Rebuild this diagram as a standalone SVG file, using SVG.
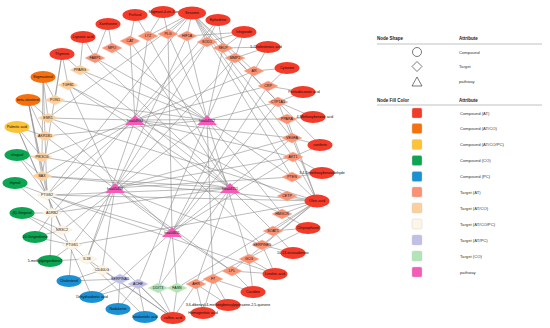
<svg xmlns="http://www.w3.org/2000/svg" xmlns:xlink="http://www.w3.org/1999/xlink" width="550" height="328" viewBox="0 0 550 328">
<style>
text{font-family:"Liberation Sans",Arial,sans-serif;fill:#111;}
.lbl{font-size:3.6px;text-anchor:middle;}
.lg{font-size:4.2px;fill:#333;}
.lh{font-size:4.5px;font-weight:bold;fill:#222;}
#edges line{stroke:#858585;stroke-width:0.55;}
.cAT{fill:#f43a28;}
.cATCO{fill:#f5700f;}
.cATCOPC{fill:#fcc238;}
.cCO{fill:#0ca551;}
.cPC{fill:#1b90d2;}
.tAT{fill:#fa9172;stroke:#fbb49e;stroke-width:0.4;}
.tATCO{fill:#fdcf9c;stroke:#fde0c0;stroke-width:0.4;}
.tATCOPC{fill:#fdf5e6;stroke:#ece2cf;stroke-width:0.4;}
.tATPC{fill:#c0bfe6;stroke:#d4d3ee;stroke-width:0.4;}
.tCO{fill:#b2e5b5;stroke:#cdeecf;stroke-width:0.4;}
.pw{fill:#f45cb8;}
.sq{stroke:#ccc;stroke-width:0.4;}
.ol{fill:none;stroke:#222;stroke-width:0.6;}
.rule{stroke:#999;stroke-width:0.6;}
</style>
<defs>
<polygon id="dia" points="0,-5 10,0 0,5 -10,0"/>
<polygon id="tri" points="-10,5 10,5 0,-5"/>
<ellipse id="ell" rx="12.5" ry="6"/>
</defs>
<rect width="550" height="328" fill="#fff"/>
<g id="edges">
<line x1="135" y1="120" x2="130" y2="41"/><line x1="135" y1="120" x2="148" y2="36"/><line x1="135" y1="120" x2="207" y2="42"/><line x1="135" y1="120" x2="254" y2="71"/><line x1="135" y1="120" x2="268" y2="86"/><line x1="135" y1="120" x2="287" y2="119"/><line x1="135" y1="120" x2="292" y2="138"/><line x1="135" y1="120" x2="293" y2="157"/><line x1="135" y1="120" x2="47" y2="195"/><line x1="135" y1="120" x2="42" y2="176"/><line x1="135" y1="120" x2="42" y2="157"/><line x1="135" y1="120" x2="48" y2="118"/><line x1="135" y1="120" x2="68" y2="85"/><line x1="135" y1="120" x2="87" y2="259"/><line x1="135" y1="120" x2="287" y2="196"/><line x1="135" y1="120" x2="262" y2="245"/>
<line x1="207" y1="120" x2="112" y2="48"/><line x1="207" y1="120" x2="95" y2="58"/><line x1="207" y1="120" x2="168" y2="34"/><line x1="207" y1="120" x2="187" y2="36"/><line x1="207" y1="120" x2="223" y2="48"/><line x1="207" y1="120" x2="235" y2="58"/><line x1="207" y1="120" x2="278" y2="102"/><line x1="207" y1="120" x2="292" y2="177"/><line x1="207" y1="120" x2="282" y2="214"/><line x1="207" y1="120" x2="80" y2="70"/><line x1="207" y1="120" x2="55" y2="100"/><line x1="207" y1="120" x2="45" y2="136"/><line x1="207" y1="120" x2="62" y2="230"/><line x1="207" y1="120" x2="138" y2="284"/><line x1="207" y1="120" x2="249" y2="259"/><line x1="207" y1="120" x2="213" y2="279"/>
<line x1="115" y1="188" x2="187" y2="36"/><line x1="115" y1="188" x2="207" y2="42"/><line x1="115" y1="188" x2="293" y2="157"/><line x1="115" y1="188" x2="292" y2="138"/><line x1="115" y1="188" x2="292" y2="177"/><line x1="115" y1="188" x2="72" y2="245"/><line x1="115" y1="188" x2="52" y2="213"/><line x1="115" y1="188" x2="87" y2="259"/><line x1="115" y1="188" x2="102" y2="270"/><line x1="115" y1="188" x2="68" y2="85"/><line x1="115" y1="188" x2="262" y2="245"/><line x1="115" y1="188" x2="232" y2="271"/><line x1="115" y1="188" x2="235" y2="58"/>
<line x1="230" y1="188" x2="80" y2="70"/><line x1="230" y1="188" x2="68" y2="85"/><line x1="230" y1="188" x2="42" y2="157"/><line x1="230" y1="188" x2="42" y2="176"/><line x1="230" y1="188" x2="47" y2="195"/><line x1="230" y1="188" x2="52" y2="213"/><line x1="230" y1="188" x2="130" y2="41"/><line x1="230" y1="188" x2="148" y2="36"/><line x1="230" y1="188" x2="95" y2="58"/><line x1="230" y1="188" x2="282" y2="214"/><line x1="230" y1="188" x2="273" y2="231"/><line x1="230" y1="188" x2="196" y2="284"/><line x1="230" y1="188" x2="158" y2="288"/>
<line x1="172" y1="232" x2="48" y2="118"/><line x1="172" y1="232" x2="45" y2="136"/><line x1="172" y1="232" x2="47" y2="195"/><line x1="172" y1="232" x2="254" y2="71"/><line x1="172" y1="232" x2="268" y2="86"/><line x1="172" y1="232" x2="278" y2="102"/><line x1="172" y1="232" x2="292" y2="138"/><line x1="172" y1="232" x2="293" y2="157"/><line x1="172" y1="232" x2="177" y2="288"/><line x1="172" y1="232" x2="158" y2="288"/><line x1="172" y1="232" x2="120" y2="279"/><line x1="172" y1="232" x2="168" y2="34"/><line x1="172" y1="232" x2="232" y2="271"/>
<line x1="192" y1="13" x2="148" y2="36"/><line x1="192" y1="13" x2="168" y2="34"/><line x1="192" y1="13" x2="187" y2="36"/><line x1="192" y1="13" x2="207" y2="42"/><line x1="192" y1="13" x2="293" y2="157"/><line x1="192" y1="13" x2="292" y2="138"/><line x1="192" y1="13" x2="47" y2="195"/><line x1="192" y1="13" x2="278" y2="102"/><line x1="192" y1="13" x2="292" y2="177"/><line x1="192" y1="13" x2="254" y2="71"/><line x1="192" y1="13" x2="48" y2="118"/>
<line x1="135" y1="15" x2="130" y2="41"/><line x1="135" y1="15" x2="148" y2="36"/>
<line x1="163" y1="12" x2="148" y2="36"/><line x1="163" y1="12" x2="168" y2="34"/>
<line x1="108" y1="24" x2="95" y2="58"/><line x1="108" y1="24" x2="112" y2="48"/>
<line x1="83" y1="37" x2="80" y2="70"/><line x1="83" y1="37" x2="95" y2="58"/>
<line x1="62" y1="54" x2="80" y2="70"/><line x1="62" y1="54" x2="55" y2="100"/><line x1="62" y1="54" x2="68" y2="85"/><line x1="62" y1="54" x2="42" y2="176"/>
<line x1="43" y1="77" x2="55" y2="100"/><line x1="43" y1="77" x2="48" y2="118"/><line x1="43" y1="77" x2="42" y2="157"/><line x1="43" y1="77" x2="47" y2="195"/>
<line x1="28" y1="100" x2="48" y2="118"/><line x1="28" y1="100" x2="45" y2="136"/><line x1="28" y1="100" x2="47" y2="195"/><line x1="28" y1="100" x2="42" y2="176"/><line x1="28" y1="100" x2="52" y2="213"/>
<line x1="17" y1="127" x2="45" y2="136"/><line x1="17" y1="127" x2="42" y2="157"/><line x1="17" y1="127" x2="47" y2="195"/><line x1="17" y1="127" x2="62" y2="230"/>
<line x1="17" y1="155" x2="42" y2="157"/><line x1="17" y1="155" x2="42" y2="176"/><line x1="17" y1="155" x2="47" y2="195"/>
<line x1="15" y1="183" x2="47" y2="195"/><line x1="15" y1="183" x2="52" y2="213"/>
<line x1="22" y1="213" x2="52" y2="213"/><line x1="22" y1="213" x2="62" y2="230"/><line x1="22" y1="213" x2="72" y2="245"/>
<line x1="35" y1="237" x2="62" y2="230"/><line x1="35" y1="237" x2="72" y2="245"/><line x1="35" y1="237" x2="52" y2="213"/>
<line x1="50" y1="261" x2="72" y2="245"/><line x1="50" y1="261" x2="52" y2="213"/><line x1="50" y1="261" x2="87" y2="259"/>
<line x1="69" y1="281" x2="72" y2="245"/><line x1="69" y1="281" x2="120" y2="279"/><line x1="69" y1="281" x2="102" y2="270"/>
<line x1="92" y1="297" x2="120" y2="279"/><line x1="92" y1="297" x2="138" y2="284"/><line x1="92" y1="297" x2="47" y2="195"/>
<line x1="118" y1="309" x2="138" y2="284"/><line x1="118" y1="309" x2="120" y2="279"/>
<line x1="145" y1="317" x2="138" y2="284"/><line x1="145" y1="317" x2="72" y2="245"/>
<line x1="173" y1="318" x2="138" y2="284"/><line x1="173" y1="318" x2="158" y2="288"/><line x1="173" y1="318" x2="177" y2="288"/><line x1="173" y1="318" x2="47" y2="195"/><line x1="173" y1="318" x2="87" y2="259"/><line x1="173" y1="318" x2="102" y2="270"/><line x1="173" y1="318" x2="196" y2="284"/>
<line x1="203" y1="313" x2="196" y2="284"/><line x1="203" y1="313" x2="213" y2="279"/>
<line x1="228" y1="305" x2="213" y2="279"/><line x1="228" y1="305" x2="196" y2="284"/>
<line x1="253" y1="292" x2="232" y2="271"/><line x1="253" y1="292" x2="249" y2="259"/><line x1="253" y1="292" x2="213" y2="279"/>
<line x1="275" y1="274" x2="232" y2="271"/><line x1="275" y1="274" x2="249" y2="259"/><line x1="275" y1="274" x2="262" y2="245"/><line x1="275" y1="274" x2="47" y2="195"/>
<line x1="293" y1="253" x2="262" y2="245"/><line x1="293" y1="253" x2="273" y2="231"/>
<line x1="308" y1="228" x2="273" y2="231"/><line x1="308" y1="228" x2="282" y2="214"/><line x1="308" y1="228" x2="196" y2="284"/>
<line x1="317" y1="201" x2="287" y2="196"/><line x1="317" y1="201" x2="282" y2="214"/><line x1="317" y1="201" x2="273" y2="231"/><line x1="317" y1="201" x2="292" y2="177"/><line x1="317" y1="201" x2="293" y2="157"/><line x1="317" y1="201" x2="287" y2="119"/><line x1="317" y1="201" x2="47" y2="195"/><line x1="317" y1="201" x2="72" y2="245"/><line x1="317" y1="201" x2="42" y2="176"/><line x1="317" y1="201" x2="232" y2="271"/><line x1="317" y1="201" x2="48" y2="118"/><line x1="317" y1="201" x2="177" y2="288"/><line x1="317" y1="201" x2="262" y2="245"/><line x1="317" y1="201" x2="278" y2="102"/>
<line x1="322" y1="173" x2="292" y2="177"/><line x1="322" y1="173" x2="293" y2="157"/>
<line x1="320" y1="145" x2="293" y2="157"/><line x1="320" y1="145" x2="292" y2="138"/><line x1="320" y1="145" x2="235" y2="58"/>
<line x1="313" y1="117" x2="287" y2="119"/><line x1="313" y1="117" x2="278" y2="102"/>
<line x1="303" y1="92" x2="278" y2="102"/><line x1="303" y1="92" x2="268" y2="86"/>
<line x1="287" y1="68" x2="268" y2="86"/><line x1="287" y1="68" x2="254" y2="71"/>
<line x1="268" y1="47" x2="254" y2="71"/><line x1="268" y1="47" x2="235" y2="58"/><line x1="268" y1="47" x2="223" y2="48"/>
<line x1="244" y1="32" x2="223" y2="48"/><line x1="244" y1="32" x2="207" y2="42"/><line x1="244" y1="32" x2="235" y2="58"/><line x1="244" y1="32" x2="187" y2="36"/>
<line x1="218" y1="20" x2="207" y2="42"/><line x1="218" y1="20" x2="223" y2="48"/><line x1="218" y1="20" x2="52" y2="213"/>
</g>
<g id="p-hsa04933"><use href="#tri" x="135" y="120" class="pw"/><text class="lbl" x="135" y="121.8">hsa04933</text></g>
<g id="p-hsa04152"><use href="#tri" x="207" y="120" class="pw"/><text class="lbl" x="207" y="121.8">hsa04152</text></g>
<g id="p-hsa05418"><use href="#tri" x="115" y="188" class="pw"/><text class="lbl" x="115" y="189.8">hsa05418</text></g>
<g id="p-hsa04151"><use href="#tri" x="230" y="188" class="pw"/><text class="lbl" x="230" y="189.8">hsa04151</text></g>
<g id="p-hsa04611"><use href="#tri" x="172" y="232" class="pw"/><text class="lbl" x="172" y="233.8">hsa04611</text></g>
<g id="t-CAT"><use href="#dia" x="130" y="41" class="tAT"/><text class="lbl" x="130" y="42.3">CAT</text></g>
<g id="t-MPO"><use href="#dia" x="112" y="48" class="tAT"/><text class="lbl" x="112" y="49.3">MPO</text></g>
<g id="t-FABP1"><use href="#dia" x="95" y="58" class="tAT"/><text class="lbl" x="95" y="59.3">FABP1</text></g>
<g id="t-LYZ"><use href="#dia" x="148" y="36" class="tAT"/><text class="lbl" x="148" y="37.3">LYZ</text></g>
<g id="t-PLG"><use href="#dia" x="168" y="34" class="tAT"/><text class="lbl" x="168" y="35.3">PLG</text></g>
<g id="t-HIF1A"><use href="#dia" x="187" y="36" class="tAT"/><text class="lbl" x="187" y="37.3">HIF1A</text></g>
<g id="t-SOD1"><use href="#dia" x="207" y="42" class="tAT"/><text class="lbl" x="207" y="43.3">SOD1</text></g>
<g id="t-SELP"><use href="#dia" x="223" y="48" class="tAT"/><text class="lbl" x="223" y="49.3">SELP</text></g>
<g id="t-MMP2"><use href="#dia" x="235" y="58" class="tAT"/><text class="lbl" x="235" y="59.3">MMP2</text></g>
<g id="t-AR"><use href="#dia" x="254" y="71" class="tAT"/><text class="lbl" x="254" y="72.3">AR</text></g>
<g id="t-CRP"><use href="#dia" x="268" y="86" class="tAT"/><text class="lbl" x="268" y="87.3">CRP</text></g>
<g id="t-CYP1A1"><use href="#dia" x="278" y="102" class="tAT"/><text class="lbl" x="278" y="103.3">CYP1A1</text></g>
<g id="t-PPARA"><use href="#dia" x="287" y="119" class="tAT"/><text class="lbl" x="287" y="120.3">PPARA</text></g>
<g id="t-VEGFA"><use href="#dia" x="292" y="138" class="tAT"/><text class="lbl" x="292" y="139.3">VEGFA</text></g>
<g id="t-AKT1"><use href="#dia" x="293" y="157" class="tAT"/><text class="lbl" x="293" y="158.3">AKT1</text></g>
<g id="t-PTEN"><use href="#dia" x="292" y="177" class="tAT"/><text class="lbl" x="292" y="178.3">PTEN</text></g>
<g id="t-CETP"><use href="#dia" x="287" y="196" class="tAT"/><text class="lbl" x="287" y="197.3">CETP</text></g>
<g id="t-HMGCR"><use href="#dia" x="282" y="214" class="tAT"/><text class="lbl" x="282" y="215.3">HMGCR</text></g>
<g id="t-SOAT1"><use href="#dia" x="273" y="231" class="tAT"/><text class="lbl" x="273" y="232.3">SOAT1</text></g>
<g id="t-SERPINE1"><use href="#dia" x="262" y="245" class="tAT"/><text class="lbl" x="262" y="246.3">SERPINE1</text></g>
<g id="t-GCG"><use href="#dia" x="249" y="259" class="tAT"/><text class="lbl" x="249" y="260.3">GCG</text></g>
<g id="t-LPL"><use href="#dia" x="232" y="271" class="tAT"/><text class="lbl" x="232" y="272.3">LPL</text></g>
<g id="t-F7"><use href="#dia" x="213" y="279" class="tAT"/><text class="lbl" x="213" y="280.3">F7</text></g>
<g id="t-AHR"><use href="#dia" x="196" y="284" class="tAT"/><text class="lbl" x="196" y="285.3">AHR</text></g>
<g id="t-PPARG"><use href="#dia" x="80" y="70" class="tATCO"/><text class="lbl" x="80" y="71.3">PPARG</text></g>
<g id="t-TGFB1"><use href="#dia" x="68" y="85" class="tATCO"/><text class="lbl" x="68" y="86.3">TGFB1</text></g>
<g id="t-PON1"><use href="#dia" x="55" y="100" class="tATCO"/><text class="lbl" x="55" y="101.3">PON1</text></g>
<g id="t-ESR1"><use href="#dia" x="48" y="118" class="tATCO"/><text class="lbl" x="48" y="119.3">ESR1</text></g>
<g id="t-AKR1B1"><use href="#dia" x="45" y="136" class="tATCO"/><text class="lbl" x="45" y="137.3">AKR1B1</text></g>
<g id="t-PIK3CG"><use href="#dia" x="42" y="157" class="tATCO"/><text class="lbl" x="42" y="158.3">PIK3CG</text></g>
<g id="t-BAX"><use href="#dia" x="42" y="176" class="tATCO"/><text class="lbl" x="42" y="177.3">BAX</text></g>
<g id="t-PTGS2"><use href="#dia" x="47" y="195" class="tATCOPC"/><text class="lbl" x="47" y="196.3">PTGS2</text></g>
<g id="t-ADRB2"><use href="#dia" x="52" y="213" class="tATCOPC"/><text class="lbl" x="52" y="214.3">ADRB2</text></g>
<g id="t-NR3C2"><use href="#dia" x="62" y="230" class="tATCOPC"/><text class="lbl" x="62" y="231.3">NR3C2</text></g>
<g id="t-PTGS1"><use href="#dia" x="72" y="245" class="tATCOPC"/><text class="lbl" x="72" y="246.3">PTGS1</text></g>
<g id="t-IL1B"><use href="#dia" x="87" y="259" class="tATCOPC"/><text class="lbl" x="87" y="260.3">IL1B</text></g>
<g id="t-CD40LG"><use href="#dia" x="102" y="270" class="tATCOPC"/><text class="lbl" x="102" y="271.3">CD40LG</text></g>
<g id="t-SERPINA1"><use href="#dia" x="120" y="279" class="tATPC"/><text class="lbl" x="120" y="280.3">SERPINA1</text></g>
<g id="t-ACHE"><use href="#dia" x="138" y="284" class="tATPC"/><text class="lbl" x="138" y="285.3">ACHE</text></g>
<g id="t-DDIT3"><use href="#dia" x="158" y="288" class="tCO"/><text class="lbl" x="158" y="289.3">DDIT3</text></g>
<g id="t-FASN"><use href="#dia" x="177" y="288" class="tCO"/><text class="lbl" x="177" y="289.3">FASN</text></g>
<g id="c1"><use href="#ell" x="135" y="15" class="cAT"/><text class="lbl" x="135" y="16.3">Furfural</text></g>
<g id="c2"><use href="#ell" x="163" y="12" class="cAT"/><text class="lbl" x="165" y="13.3">Stigmast-4-en-3-one</text></g>
<g id="c3"><ellipse cx="192" cy="13" rx="14" ry="6.5" class="cAT"/><text class="lbl" x="192" y="14.3">Sesamin</text></g>
<g id="c4"><use href="#ell" x="218" y="20" class="cAT"/><text class="lbl" x="218" y="21.3">Ephedrine</text></g>
<g id="c5"><use href="#ell" x="244" y="32" class="cAT"/><text class="lbl" x="244" y="33.3">Ishigoside</text></g>
<g id="c6"><use href="#ell" x="268" y="47" class="cAT"/><text class="lbl" x="266" y="48.3">5-Cholestenoic acid</text></g>
<g id="c7"><use href="#ell" x="287" y="68" class="cAT"/><text class="lbl" x="287" y="69.3">Cytosine</text></g>
<g id="c8"><use href="#ell" x="303" y="92" class="cAT"/><text class="lbl" x="304" y="93.3">Pentadecanoic acid</text></g>
<g id="c9"><use href="#ell" x="313" y="117" class="cAT"/><text class="lbl" x="315" y="118.3">4-Methoxybenzoic acid</text></g>
<g id="c10"><use href="#ell" x="320" y="145" class="cAT"/><text class="lbl" x="320" y="146.3">coniferin</text></g>
<g id="c11"><use href="#ell" x="322" y="173" class="cAT"/><text class="lbl" x="322" y="174.3">3,4-Dimethoxybenzaldehyde</text></g>
<g id="c12"><ellipse cx="317" cy="201" rx="12.5" ry="6.5" class="cAT"/><text class="lbl" x="317" y="202.3">Oleic acid</text></g>
<g id="c13"><use href="#ell" x="308" y="228" class="cAT"/><text class="lbl" x="308" y="229.3">Chrysophanol</text></g>
<g id="c14"><use href="#ell" x="293" y="253" class="cAT"/><text class="lbl" x="293" y="254.3">10,13-eicosadienoic</text></g>
<g id="c15"><use href="#ell" x="275" y="274" class="cAT"/><text class="lbl" x="275" y="275.3">Linoleic acid</text></g>
<g id="c16"><use href="#ell" x="253" y="292" class="cAT"/><text class="lbl" x="253" y="293.3">Cavidine</text></g>
<g id="c17"><use href="#ell" x="228" y="305" class="cAT"/><text class="lbl" x="228" y="306.3">3,6-dibenzyl-4-methoxybenzylpiperazine-2,5-quinone</text></g>
<g id="c18"><use href="#ell" x="203" y="313" class="cAT"/><text class="lbl" x="203" y="314.3">Homogentisic acid</text></g>
<g id="c19"><use href="#ell" x="173" y="318" class="cAT"/><text class="lbl" x="173" y="319.3">caffeic acid</text></g>
<g id="c20"><use href="#ell" x="108" y="24" class="cAT"/><text class="lbl" x="108" y="25.3">Xanthosine</text></g>
<g id="c21"><use href="#ell" x="83" y="37" class="cAT"/><text class="lbl" x="83" y="38.3">Lignosic acid</text></g>
<g id="c22"><use href="#ell" x="62" y="54" class="cAT"/><text class="lbl" x="62" y="55.3">Thymine</text></g>
<g id="c23"><use href="#ell" x="43" y="77" class="cATCO"/><text class="lbl" x="43" y="78.3">Stigmasterol</text></g>
<g id="c24"><use href="#ell" x="28" y="100" class="cATCO"/><text class="lbl" x="28" y="101.3">beta-sitosterol</text></g>
<g id="c25"><use href="#ell" x="17" y="127" class="cATCOPC"/><text class="lbl" x="17" y="128.3">Palmitic acid</text></g>
<g id="c26"><use href="#ell" x="17" y="155" class="cCO"/><text class="lbl" x="17" y="156.3">shogaol</text></g>
<g id="c27"><use href="#ell" x="15" y="183" class="cCO"/><text class="lbl" x="15" y="184.3">thymol</text></g>
<g id="c28"><use href="#ell" x="22" y="213" class="cCO"/><text class="lbl" x="22" y="214.3">(6)-Gingerol</text></g>
<g id="c29"><use href="#ell" x="35" y="237" class="cCO"/><text class="lbl" x="35" y="238.3">10-Gingerdione</text></g>
<g id="c30"><use href="#ell" x="50" y="261" class="cCO"/><text class="lbl" x="45" y="262.3">5-methylgingerdione2</text></g>
<g id="c31"><use href="#ell" x="69" y="281" class="cPC"/><text class="lbl" x="69" y="282.3">Cholesterol</text></g>
<g id="c32"><use href="#ell" x="92" y="297" class="cPC"/><text class="lbl" x="92" y="298.3">Dehydroabietic acid</text></g>
<g id="c33"><use href="#ell" x="118" y="309" class="cPC"/><text class="lbl" x="118" y="310.3">Nodakenin</text></g>
<g id="c34"><use href="#ell" x="145" y="317" class="cPC"/><text class="lbl" x="145" y="318.3">Isoalantolic acid</text></g>
<g id="legend">
<text class="lh" x="377" y="40">Node Shape</text>
<text class="lh" x="459" y="40">Attribute</text>
<line class="rule" x1="377" y1="44" x2="542" y2="44"/>
<circle class="ol" cx="417" cy="52" r="4.5"/>
<polygon class="ol" points="417,61.5 422,66.5 417,71.5 412,66.5"/>
<polygon class="ol" points="417,77 422,86 412,86"/>
<text class="lg" x="459" y="53.5">Compound</text>
<text class="lg" x="459" y="68">Target</text>
<text class="lg" x="459" y="83">pathway</text>
<text class="lh" x="377" y="101.5">Node Fill Color</text>
<text class="lh" x="459" y="101.5">Attribute</text>
<line class="rule" x1="377" y1="105" x2="542" y2="105"/>
<rect class="sq cAT" x="412" y="108" width="10" height="10" rx="1.5"/>
<rect class="sq cATCO" x="412" y="123.5" width="10" height="10" rx="1.5"/>
<rect class="sq cATCOPC" x="412" y="139.5" width="10" height="10" rx="1.5"/>
<rect class="sq cCO" x="412" y="155.5" width="10" height="10" rx="1.5"/>
<rect class="sq cPC" x="412" y="171.5" width="10" height="10" rx="1.5"/>
<rect class="sq tAT" x="412" y="187" width="10" height="10" rx="1.5"/>
<rect class="sq tATCO" x="412" y="203" width="10" height="10" rx="1.5"/>
<rect class="sq tATCOPC" x="412" y="219" width="10" height="10" rx="1.5"/>
<rect class="sq tATPC" x="412" y="235" width="10" height="10" rx="1.5"/>
<rect class="sq tCO" x="412" y="251" width="10" height="10" rx="1.5"/>
<rect class="sq pw" x="412" y="267" width="10" height="10" rx="1.5"/>
<text class="lg" x="460" y="114.5">Compound (AT)</text>
<text class="lg" x="460" y="130">Compound (AT/CO)</text>
<text class="lg" x="460" y="146">Compound (AT/CO/PC)</text>
<text class="lg" x="460" y="162">Compound (CO)</text>
<text class="lg" x="460" y="178">Compound (PC)</text>
<text class="lg" x="460" y="193.5">Target (AT)</text>
<text class="lg" x="460" y="209.5">Target (AT/CO)</text>
<text class="lg" x="460" y="225.5">Target (AT/CO/PC)</text>
<text class="lg" x="460" y="241.5">Target (AT/PC)</text>
<text class="lg" x="460" y="257.5">Target (CO)</text>
<text class="lg" x="460" y="273.5">pathway</text>
</g>
</svg>
